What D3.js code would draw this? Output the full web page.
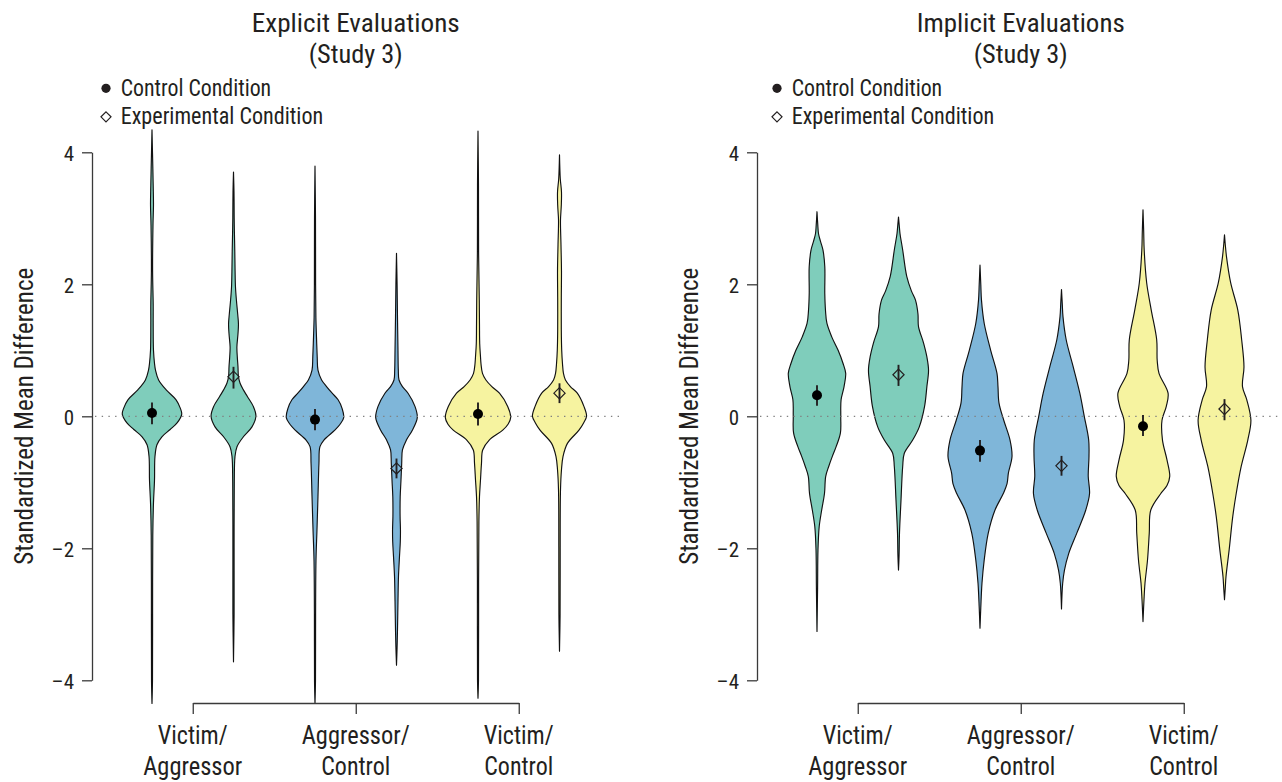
<!DOCTYPE html>
<html>
<head>
<meta charset="utf-8">
<script src="https://cdn.jsdelivr.net/npm/d3@7"></script>
<style>
  html, body { margin: 0; padding: 0; background: #fff; }
  svg { display: block; }
  text { font-family: "Liberation Sans Narrow", "Arial Narrow", "Roboto Condensed", Roboto, sans-serif; fill: #231f20; }
</style>
</head>
<body>
<svg id="chart" width="1282" height="782"></svg>
<script>
// ---- categories and labels ----
const groups = ["Victim/Aggressor", "Aggressor/Control", "Victim/Control"];
const groupLines = [["Victim/", "Aggressor"], ["Aggressor/", "Control"], ["Victim/", "Control"]];
const conditions = ["Control Condition", "Experimental Condition"];
const explicitTitle = ["Explicit Evaluations", "(Study 3)"];
const implicitTitle = ["Implicit Evaluations", "(Study 3)"];
const yLabel = "Standardized Mean Difference";
const yTicks = [-4, -2, 0, 2, 4];
const groupColors = ["#7fcdbb", "#7fb6d9", "#f6f3a0"];

// ---- means with 95% intervals (order: group × [control, experimental]) ----
const explicitMeans = [0.05, 0.60, -0.05, -0.79, 0.035, 0.35];
const explicitLow   = [-0.12, 0.42, -0.21, -0.94, -0.14, 0.20];
const explicitHigh  = [0.21, 0.75, 0.11, -0.64, 0.21, 0.50];

const implicitMeans = [0.32, 0.63, -0.52, -0.75, -0.15, 0.11];
const implicitLow   = [0.16, 0.46, -0.69, -0.90, -0.30, -0.06];
const implicitHigh  = [0.47, 0.78, -0.36, -0.60, 0.02, 0.26];

// ---- kernel density profiles: [value, relative density] ----
const explicitVAControl = [[4.34,0],[4.0,0.015],[3.5,0.036],[3.2,0.045],[2.9,0.03],[2.2,0.018],[1.7,0.036],[1.4,0.036],[1.0,0.045],[0.8,0.076],[0.7,0.106],[0.55,0.2],[0.4,0.43],[0.25,0.73],[0.12,0.86],[0.03,0.9],[-0.1,0.76],[-0.2,0.55],[-0.31,0.3],[-0.43,0.15],[-0.61,0.09],[-0.97,0.076],[-1.31,0.045],[-1.8,0.024],[-3.0,0.018],[-4.0,0.015],[-4.35,0]];
const explicitVAExp = [[3.70,0],[3.4,0.015],[3.0,0.021],[2.8,0.027],[2.5,0.039],[2.2,0.048],[1.96,0.06],[1.75,0.09],[1.55,0.127],[1.4,0.15],[1.25,0.136],[1.05,0.103],[0.9,0.115],[0.75,0.136],[0.6,0.15],[0.5,0.2],[0.4,0.3],[0.3,0.42],[0.15,0.6],[0.0,0.68],[-0.16,0.56],[-0.31,0.3],[-0.46,0.106],[-0.61,0.045],[-1.0,0.024],[-2.0,0.018],[-3.0,0.018],[-3.72,0]];
const explicitACControl = [[3.79,0],[3.0,0.015],[2.0,0.018],[1.5,0.027],[1.2,0.045],[0.9,0.067],[0.7,0.09],[0.55,0.2],[0.45,0.35],[0.35,0.52],[0.25,0.7],[0.12,0.82],[-0.02,0.87],[-0.12,0.76],[-0.21,0.6],[-0.36,0.27],[-0.46,0.15],[-0.71,0.12],[-1.22,0.09],[-1.72,0.06],[-2.18,0.03],[-3.0,0.018],[-4.0,0.015],[-4.35,0]];
const explicitACExp = [[2.47,0],[2.0,0.018],[1.5,0.03],[1.0,0.045],[0.7,0.055],[0.55,0.076],[0.45,0.18],[0.35,0.35],[0.15,0.56],[-0.02,0.63],[-0.21,0.48],[-0.36,0.3],[-0.51,0.18],[-0.71,0.158],[-0.97,0.136],[-1.22,0.112],[-1.52,0.109],[-1.72,0.12],[-1.9,0.115],[-2.13,0.09],[-2.43,0.06],[-2.8,0.045],[-3.24,0.03],[-3.5,0.018],[-3.77,0]];
const explicitVCControl = [[4.32,0],[3.5,0.015],[2.5,0.018],[1.76,0.039],[1.4,0.045],[1.1,0.052],[0.9,0.076],[0.8,0.09],[0.65,0.136],[0.55,0.24],[0.45,0.42],[0.35,0.65],[0.15,0.9],[-0.02,0.99],[-0.12,0.91],[-0.21,0.75],[-0.36,0.34],[-0.51,0.142],[-0.71,0.106],[-0.96,0.076],[-1.22,0.045],[-1.6,0.027],[-2.5,0.018],[-4.0,0.015],[-4.27,0]];
const explicitVCExp = [[3.96,0],[3.6,0.024],[3.4,0.06],[3.2,0.055],[2.97,0.03],[2.6,0.045],[2.2,0.06],[1.8,0.055],[1.31,0.055],[1.0,0.067],[0.8,0.09],[0.65,0.12],[0.55,0.18],[0.45,0.33],[0.35,0.54],[0.15,0.74],[0.0,0.82],[-0.1,0.73],[-0.21,0.59],[-0.41,0.24],[-0.61,0.106],[-0.81,0.06],[-1.12,0.03],[-2.0,0.021],[-3.0,0.018],[-3.56,0]];

const implicitVAControl = [[3.10,0],[2.9,0.024],[2.77,0.045],[2.65,0.106],[2.52,0.18],[2.27,0.236],[1.86,0.236],[1.6,0.258],[1.41,0.3],[1.2,0.45],[1.0,0.64],[0.8,0.79],[0.65,0.87],[0.45,0.82],[0.25,0.73],[0.0,0.72],[-0.25,0.71],[-0.46,0.58],[-0.6,0.47],[-0.76,0.355],[-0.91,0.264],[-1.17,0.227],[-1.42,0.142],[-1.67,0.067],[-2.02,0.03],[-2.6,0.018],[-3.26,0]];
const implicitVAExp = [[3.02,0],[2.85,0.03],[2.77,0.045],[2.52,0.127],[2.12,0.25],[1.9,0.39],[1.76,0.515],[1.55,0.59],[1.36,0.606],[1.11,0.76],[0.9,0.86],[0.70,0.91],[0.45,0.86],[0.15,0.79],[-0.16,0.63],[-0.36,0.43],[-0.56,0.176],[-0.76,0.127],[-1.27,0.076],[-1.77,0.03],[-2.1,0.018],[-2.33,0]];
const implicitACControl = [[2.29,0],[2.0,0.024],[1.76,0.045],[1.41,0.127],[1.0,0.324],[0.65,0.515],[0.45,0.545],[0.2,0.576],[-0.06,0.72],[-0.36,0.91],[-0.61,0.97],[-0.86,0.86],[-1.02,0.82],[-1.17,0.706],[-1.42,0.455],[-1.77,0.25],[-2.18,0.127],[-2.53,0.06],[-2.9,0.024],[-3.21,0]];
const implicitACExp = [[1.92,0],[1.7,0.024],[1.51,0.045],[1.16,0.142],[0.75,0.355],[0.35,0.555],[0.0,0.69],[-0.36,0.824],[-0.61,0.833],[-0.91,0.81],[-1.17,0.85],[-1.42,0.736],[-1.77,0.464],[-2.08,0.218],[-2.33,0.09],[-2.53,0.036],[-2.92,0]];
const implicitVCControl = [[3.13,0],[2.8,0.021],[2.52,0.036],[2.02,0.112],[1.61,0.25],[1.16,0.415],[0.85,0.43],[0.65,0.485],[0.35,0.76],[0.15,0.706],[-0.06,0.576],[-0.36,0.59],[-0.66,0.727],[-0.91,0.81],[-1.05,0.727],[-1.17,0.54],[-1.42,0.236],[-1.77,0.19],[-2.18,0.136],[-2.53,0.06],[-2.78,0.03],[-3.11,0]];
const implicitVCExp = [[2.75,0],[2.6,0.024],[2.42,0.06],[2.02,0.188],[1.61,0.403],[1.16,0.52],[0.75,0.59],[0.45,0.545],[0.25,0.676],[-0.06,0.8],[-0.36,0.706],[-0.76,0.506],[-1.17,0.355],[-1.52,0.25],[-2.02,0.142],[-2.43,0.045],[-2.6,0.024],[-2.78,0]];

const explicitDensities = [explicitVAControl, explicitVAExp, explicitACControl, explicitACExp, explicitVCControl, explicitVCExp];
const implicitDensities = [implicitVAControl, implicitVAExp, implicitACControl, implicitACExp, implicitVCControl, implicitVCExp];

// ---- drawing ----
const svg = d3.select("#chart");
const ink = "#231f20";
const axisInk = "#3a3a3a";

const y = d3.scaleLinear().domain([-4, 4]).range([680.3, 152.3]);
const slotX = d3.scalePoint().domain(d3.range(6)).range([152, 559.5]);
const groupX = d3.scalePoint().domain(groups).range([192.75, 518.75]);
const halfWidth = d3.scaleLinear().domain([0, 1]).range([0, 33]);

// condensed lettering: fixed run lengths for the long strings
const runLength = {
  "Explicit Evaluations": 208, "Implicit Evaluations": 208, "(Study 3)": 94,
  "Control Condition": 150.5, "Experimental Condition": 202.5,
  "Standardized Mean Difference": 297,
  "Victim/": 70, "Aggressor": 99, "Aggressor/": 108, "Control": 69
};
function condense(sel) {
  sel.each(function () {
    const t = d3.select(this).text();
    if (runLength[t]) d3.select(this).attr("textLength", runLength[t]).attr("lengthAdjust", "spacingAndGlyphs");
  });
}

function diamondPath(cx, cy, s) {
  return d3.line()([[cx, cy - s], [cx + s, cy], [cx, cy + s], [cx - s, cy]]) + "Z";
}

function drawPanel(offsetX, legendX, title, densities, means, lows, highs) {
  const g = svg.append("g").attr("transform", `translate(${offsetX},0)`);

  // title
  g.selectAll("text.title").data(title).join("text")
    .attr("class", "title")
    .attr("x", groupX(groups[1]))
    .attr("y", (d, i) => 32.3 + i * 30.5)
    .attr("text-anchor", "middle")
    .attr("font-size", 26)
    .text(d => d)
    .call(condense);

  // legend
  const lg = g.append("g").attr("transform", `translate(${legendX},0)`);
  lg.append("circle").attr("cx", 0).attr("cy", 88.3).attr("r", 4.6).attr("fill", ink);
  lg.append("path").attr("d", diamondPath(0, 116.8, 5)).attr("fill", "none").attr("stroke", ink).attr("stroke-width", 1.2);
  lg.selectAll("text").data(conditions).join("text")
    .attr("x", 14.7)
    .attr("y", (d, i) => 95.8 + i * 28.2)
    .attr("font-size", 23)
    .text(d => d)
    .call(condense);

  // violins
  densities.forEach((dens, i) => {
    const cx = slotX(i);
    const area = d3.area()
      .curve(d3.curveCatmullRom.alpha(0.5))
      .y(d => y(d[0]))
      .x0(d => cx - halfWidth(d[1]))
      .x1(d => cx + halfWidth(d[1]));
    g.append("path")
      .attr("d", area(dens))
      .attr("fill", groupColors[Math.floor(i / 2)])
      .attr("stroke", "#111")
      .attr("stroke-width", 1.15)
      .attr("stroke-linejoin", "round");
  });

  // zero reference line
  g.append("line")
    .attr("x1", 95).attr("x2", 620)
    .attr("y1", y(0)).attr("y2", y(0))
    .attr("stroke", "#808080").attr("stroke-width", 1.3)
    .attr("stroke-dasharray", "1.4,5.3");

  // intervals and means
  means.forEach((m, i) => {
    const cx = slotX(i);
    g.append("line")
      .attr("x1", cx).attr("x2", cx)
      .attr("y1", y(lows[i])).attr("y2", y(highs[i]))
      .attr("stroke", ink).attr("stroke-width", 1.9);
    if (i % 2 === 0) {
      g.append("circle").attr("cx", cx).attr("cy", y(m)).attr("r", 5).attr("fill", "#000");
    } else {
      g.append("path").attr("d", diamondPath(cx, y(m), 5.6))
        .attr("fill", "none").attr("stroke", ink).attr("stroke-width", 1.2);
    }
  });

  // y axis
  const yAxis = d3.axisLeft(y).tickValues(yTicks).tickSize(10).tickSizeOuter(0).tickPadding(8)
    .tickFormat(d => d < 0 ? "\u2013" + Math.abs(d) : String(d));
  g.append("g").attr("transform", "translate(92,0)").call(yAxis)
    .call(a => a.attr("font-family", null).attr("font-size", null))
    .call(a => a.select(".domain").attr("stroke", axisInk).attr("stroke-width", 1.3))
    .call(a => a.selectAll(".tick line").attr("stroke", axisInk).attr("stroke-width", 1.3))
    .call(a => a.selectAll(".tick text").attr("font-size", 21).attr("fill", ink).attr("dy", "0.4em"));

  g.append("text")
    .attr("transform", `translate(32.7,${y(0)}) rotate(-90)`)
    .attr("text-anchor", "middle")
    .attr("font-size", 25)
    .text(yLabel)
    .call(condense);

  // grouping bracket
  const xAxis = d3.axisBottom(groupX).tickSize(11).tickSizeOuter(0).tickFormat("");
  g.append("g").attr("transform", "translate(0,703)").call(xAxis)
    .call(a => a.select(".domain").attr("stroke", axisInk).attr("stroke-width", 1.3))
    .call(a => a.selectAll(".tick line").attr("stroke", axisInk).attr("stroke-width", 1.3));

  groups.forEach((gName, gi) => {
    groupLines[gi].forEach((line, li) => {
      g.append("text")
        .attr("x", groupX(gName))
        .attr("y", 743.5 + li * 31.5)
        .attr("text-anchor", "middle")
        .attr("font-size", 25)
        .text(line)
        .call(condense);
    });
  });
}

drawPanel(0, 106, explicitTitle, explicitDensities, explicitMeans, explicitLow, explicitHigh);
drawPanel(665, 112, implicitTitle, implicitDensities, implicitMeans, implicitLow, implicitHigh);
</script>
</body>
</html>
